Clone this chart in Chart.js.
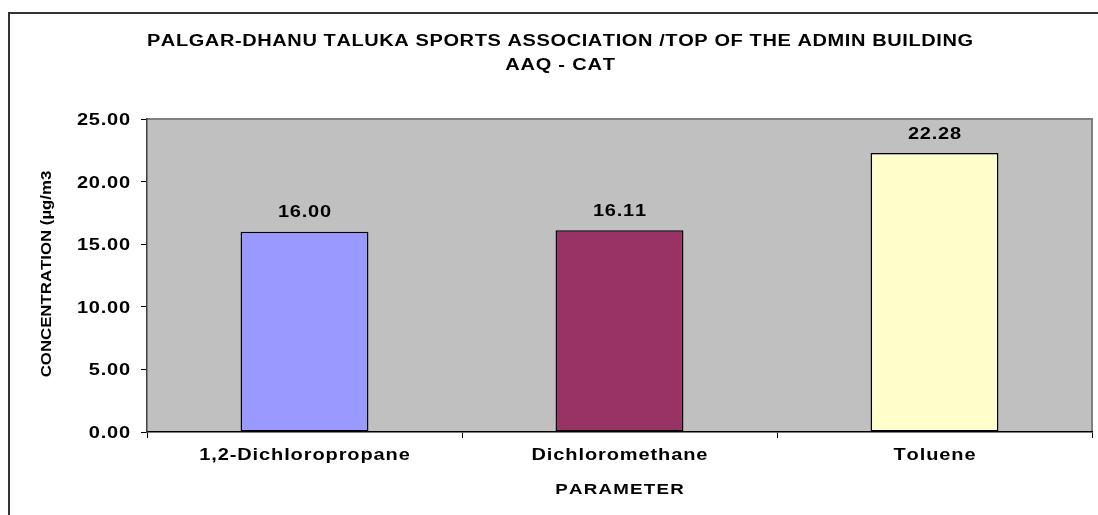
<!DOCTYPE html>
<html>
<head>
<meta charset="utf-8">
<script src="https://cdn.jsdelivr.net/npm/chart.js@4.4.0/dist/chart.umd.min.js"></script>
<style>
  html, body { margin: 0; padding: 0; background: #ffffff; }
  #wrap { width: 1098px; height: 515px; }
</style>
</head>
<body>
<div id="wrap"><canvas id="c" width="1098" height="515"></canvas></div>
<script>
const categories = ['1,2-Dichloropropane', 'Dichloromethane', 'Toluene'];
const concentrations = [16.00, 16.11, 22.28];
const barColors = ['#9999FF', '#993366', '#FFFFCC'];
const yTickLabels = ['0.00', '5.00', '10.00', '15.00', '20.00', '25.00'];
const titleLines = ['PALGAR-DHANU TALUKA SPORTS ASSOCIATION /TOP OF THE ADMIN BUILDING', 'AAQ - CAT'];
const yTitle = 'CONCENTRATION (\u00b5g/m3';
const xTitle = 'PARAMETER';

const FONT = '"Liberation Sans", Arial, Helvetica, sans-serif';

// draw text stretched horizontally by sx with extra letter spacing (in unscaled px)
function drawText(ctx, text, x, y, align, sx, spacing) {
  ctx.save();
  ctx.textAlign = 'left';
  let widths = [];
  let total = 0;
  for (const ch of text) {
    const w = ctx.measureText(ch).width;
    widths.push(w);
    total += w;
  }
  // use whole-string measurement for kerning-free consistency
  const visW = total * sx + spacing * (widths.length - 1);
  let sxStart = x;
  if (align === 'center') sxStart = x - visW / 2;
  else if (align === 'right') sxStart = x - visW;
  let cx = sxStart;
  let i = 0;
  for (const ch of text) {
    ctx.save();
    ctx.translate(cx, y);
    ctx.scale(sx, 1);
    ctx.fillText(ch, 0, 0);
    ctx.restore();
    cx += widths[i] * sx + spacing;
    i++;
  }
  ctx.restore();
}

const decor = {
  id: 'decor',
  beforeDraw(chart) {
    const ctx = chart.ctx;
    const a = chart.chartArea;
    ctx.save();
    ctx.fillStyle = '#ffffff';
    ctx.fillRect(0, 0, chart.width, chart.height);
    ctx.strokeStyle = '#333333';
    ctx.lineWidth = 2;
    ctx.beginPath();
    ctx.moveTo(9, chart.height + 5);
    ctx.lineTo(9, 13);
    ctx.lineTo(chart.width + 5, 13);
    ctx.stroke();
    ctx.fillStyle = '#C0C0C0';
    ctx.fillRect(a.left, a.top, a.right - a.left, a.bottom - a.top);
    ctx.strokeStyle = '#808080';
    ctx.lineWidth = 2;
    ctx.beginPath();
    ctx.moveTo(a.left, a.top);
    ctx.lineTo(a.right, a.top);
    ctx.lineTo(a.right, a.bottom);
    ctx.stroke();
    ctx.restore();
  },
  afterDraw(chart) {
    const ctx = chart.ctx;
    const a = chart.chartArea;
    const ys = chart.scales.y, xs = chart.scales.x;
    ctx.save();
    ctx.fillStyle = '#000000';
    ctx.font = 'bold 16px ' + FONT;
    drawText(ctx, titleLines[0], 560, 46, 'center', 1.25, 0.6);
    drawText(ctx, titleLines[1], 560, 70, 'center', 1.25, 0.8);
    ctx.font = 'bold 16px ' + FONT;
    ys.ticks.forEach((t, i) => {
      const py = ys.getPixelForTick(i);
      const lbl = Array.isArray(t.label) ? t.label.join(' ') : t.label;
      drawText(ctx, lbl, 130, py + 6, 'right', 1.25, 0.75);
    });
    xs.ticks.forEach((t, i) => {
      const px = xs.getPixelForTick(i);
      const lbl = Array.isArray(t.label) ? t.label.join(' ') : t.label;
      drawText(ctx, lbl, px, 460, 'center', 1.25, 0.9);
    });
    ctx.font = 'bold 15px ' + FONT;
    drawText(ctx, xTitle, (a.left + a.right) / 2, 494, 'center', 1.25, 1.2);
    ctx.save();
    ctx.translate(51, 274);
    ctx.rotate(-Math.PI / 2);
    ctx.font = 'bold 14px ' + FONT;
    drawText(ctx, yTitle, 0, 0, 'center', 1.2, 0);
    ctx.restore();
    ctx.font = 'bold 16px ' + FONT;
    const meta = chart.getDatasetMeta(0);
    meta.data.forEach((bar, i) => {
      drawText(ctx, concentrations[i].toFixed(2), bar.x, bar.y - 14.5, 'center', 1.25, 0.75);
    });
    ctx.restore();
  }
};

new Chart(document.getElementById('c'), {
  type: 'bar',
  data: {
    labels: categories,
    datasets: [{
      data: concentrations,
      backgroundColor: barColors,
      borderColor: '#000000',
      borderWidth: 1.5,
      borderSkipped: false,
      categoryPercentage: 1.0,
      barPercentage: 0.406
    }]
  },
  options: {
    responsive: false,
    animation: false,
    devicePixelRatio: 1,
    layout: { padding: { left: 0, top: 119, right: 6, bottom: 0 } },
    plugins: {
      legend: { display: false },
      title: { display: false },
      tooltip: { enabled: false }
    },
    scales: {
      x: {
        offset: true,
        grid: { offset: true, drawOnChartArea: false, drawTicks: true, tickLength: 6, color: '#000000', lineWidth: 1 },
        border: { display: true, color: '#000000', width: 1.5 },
        ticks: { color: 'rgba(0,0,0,0)', font: { size: 16, weight: 'bold' } },
        afterFit(s) { s.height = 83; }
      },
      y: {
        min: 0,
        max: 25,
        ticks: {
          stepSize: 5,
          color: 'rgba(0,0,0,0)',
          font: { size: 16, weight: 'bold' },
          callback: (v) => yTickLabels[Math.round(v / 5)]
        },
        grid: { drawOnChartArea: false, drawTicks: true, tickLength: 6, color: '#000000', lineWidth: 1 },
        border: { display: true, color: '#404040', width: 1.5 },
        afterFit(s) { s.width = 147; }
      }
    }
  },
  plugins: [decor]
});
</script>
</body>
</html>
